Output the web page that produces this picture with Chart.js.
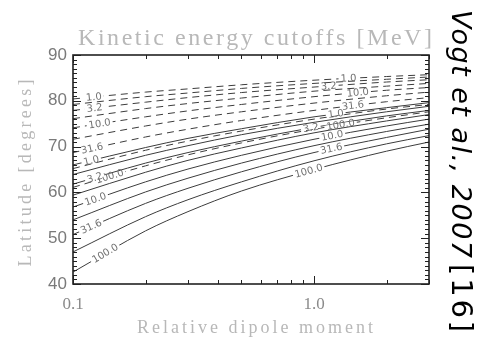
<!DOCTYPE html>
<html>
<head>
<meta charset="utf-8">
<script src="https://cdn.jsdelivr.net/npm/chart.js@4.4.1/dist/chart.umd.min.js"></script>
<style>
  html, body { margin: 0; padding: 0; background: #fff; }
</style>
</head>
<body>
<canvas id="cutoffChart" width="480" height="339"></canvas>
<script>
// relative dipole moment (log axis)
const dipoleMoment = [0.1, 0.2, 0.3, 0.5, 1.0, 2.0, 3.0];
// contour levels, MeV
const cutoffLevels = ['1.0', '1.8', '3.2', '5.6', '10.0', '17.8', '31.6', '56.2', '100.0'];

// latitude (deg) of each dashed contour at the dipoleMoment points
const dashedLatitude = [
  [80.4, 81.9, 82.6, 83.5, 84.5, 85.3, 85.7],
  [79.2, 80.9, 81.7, 82.7, 83.8, 84.7, 85.2],
  [77.9, 79.7, 80.7, 81.8, 83.0, 84.1, 84.6],
  [76.1, 78.3, 79.4, 80.6, 82.1, 83.2, 83.8],
  [74.1, 76.5, 77.8, 79.2, 80.9, 82.3, 82.9],
  [71.6, 74.5, 76.0, 77.6, 79.5, 81.1, 81.9],
  [68.7, 72.1, 73.8, 75.7, 77.9, 79.8, 80.7],
  [65.2, 69.2, 71.2, 73.4, 76.0, 78.2, 79.2],
  [61.1, 65.8, 68.2, 70.8, 73.8, 76.3, 77.6]
];

// latitude (deg) of each solid contour
const solidLatitude = [
  [66.0, 69.8, 71.8, 73.9, 76.5, 78.5, 79.6],
  [63.9, 68.1, 70.2, 72.6, 75.3, 77.6, 78.8],
  [61.8, 66.4, 68.7, 71.2, 74.2, 76.7, 77.9],
  [59.4, 64.4, 67.0, 69.7, 73.0, 75.6, 77.0],
  [56.8, 62.3, 65.1, 68.1, 71.6, 74.5, 76.0],
  [54.0, 60.1, 63.1, 66.4, 70.2, 73.3, 74.9],
  [50.8, 57.6, 60.9, 64.5, 68.7, 72.0, 73.8],
  [47.0, 54.7, 58.4, 62.3, 66.9, 70.6, 72.4],
  [42.6, 51.6, 55.8, 60.3, 65.0, 69.0, 71.0]
];

const xTicks = [0.1, 1.0];
const xTickLabels = ['0.1', '1.0'];
const xMinorTicks = [0.2, 0.3, 0.4, 0.5, 0.6, 0.7, 0.8, 0.9, 2, 3];
const yTicks = [40, 50, 60, 70, 80, 90];
const yMinorTicks = [];
for (let v = 41; v < 90; v++) if (v % 10) yMinorTicks.push(v);

// where along x the level numbers sit (every other contour is labelled)
const dashedLabelAt = [[0.122, 1.39], null, [0.123, 1.15], null, [0.129, 1.52], null, [0.12, 1.45], null, [0.142, 1.29]];
const solidLabelAt = [[0.119, 1.23], null, [0.123, 0.97], null, [0.124, 1.19], null, [0.119, 1.18], null, [0.136, 0.95]];

const lineColor = '#3c3c3c';
const datasets = [];
dashedLatitude.forEach((lat, i) => {
  datasets.push({
    label: cutoffLevels[i],
    data: dipoleMoment.map((x, j) => ({ x: x, y: lat[j] })),
    borderColor: lineColor,
    borderWidth: 1,
    borderDash: [7, 5],
    pointRadius: 0,
    cubicInterpolationMode: 'monotone',
    labelAt: dashedLabelAt[i]
  });
});
solidLatitude.forEach((lat, i) => {
  datasets.push({
    label: cutoffLevels[i],
    data: dipoleMoment.map((x, j) => ({ x: x, y: lat[j] })),
    borderColor: lineColor,
    borderWidth: 1,
    pointRadius: 0,
    cubicInterpolationMode: 'monotone',
    labelAt: solidLabelAt[i]
  });
});

// level numbers written on the contours, line broken under the text
const contourLabels = {
  id: 'contourLabels',
  afterDatasetsDraw(chart) {
    const ctx = chart.ctx;
    const xs = chart.scales.x;
    ctx.save();
    ctx.font = '10px "DejaVu Sans"';
    ctx.textAlign = 'center';
    ctx.textBaseline = 'middle';
    chart.data.datasets.forEach((ds, i) => {
      if (!ds.labelAt) return;
      const line = chart.getDatasetMeta(i).dataset;
      ds.labelAt.forEach(xv => {
        const px = xs.getPixelForValue(xv);
        const p = line.interpolate({ x: px }, 'x');
        const a = line.interpolate({ x: px - 4 }, 'x');
        const b = line.interpolate({ x: px + 4 }, 'x');
        if (!p || !a || !b) return;
        const ang = Math.atan2(b.y - a.y, b.x - a.x);
        const w = ctx.measureText(ds.label).width;
        ctx.save();
        ctx.translate(p.x, p.y);
        ctx.rotate(ang);
        ctx.fillStyle = '#fff';
        ctx.fillRect(-w / 2 - 2, -1.5, w + 4, 3);
        ctx.fillStyle = '#707070';
        ctx.fillText(ds.label, 0, 0.5);
        ctx.restore();
      });
    });
    ctx.restore();
  }
};

// closed frame with inward ticks on all four sides
const frameTicks = {
  id: 'frameTicks',
  afterDraw(chart) {
    const { ctx, chartArea: a, scales: { x, y } } = chart;
    ctx.save();
    ctx.strokeStyle = '#222';
    ctx.lineWidth = 1;
    const seg = (x1, y1, x2, y2) => {
      ctx.beginPath(); ctx.moveTo(x1, y1); ctx.lineTo(x2, y2); ctx.stroke();
    };
    xTicks.concat(xMinorTicks).forEach(v => {
      const len = xTicks.includes(v) ? 8 : 4;
      const px = Math.round(x.getPixelForValue(v)) + 0.5;
      seg(px, a.bottom, px, a.bottom - len);
      seg(px, a.top, px, a.top + len);
    });
    yTicks.concat(yMinorTicks).forEach(v => {
      const len = yTicks.includes(v) ? 8 : 4;
      const py = Math.round(y.getPixelForValue(v)) + 0.5;
      seg(a.left, py, a.left + len, py);
      seg(a.right, py, a.right - len, py);
    });
    ctx.lineWidth = 1.6;
    ctx.strokeRect(a.left, a.top, a.right - a.left, a.bottom - a.top);
    ctx.restore();
  }
};

// text stretched to a given width by letter spacing
function spacedText(ctx, text, cx, cy, width) {
  ctx.letterSpacing = '0px';
  const w0 = ctx.measureText(text).width;
  const sp = (width - w0) / (text.length - 1);
  ctx.letterSpacing = sp + 'px';
  ctx.textAlign = 'left';
  ctx.fillText(text, cx - width / 2, cy);
  ctx.letterSpacing = '0px';
}

const headings = {
  id: 'headings',
  afterDraw(chart) {
    const ctx = chart.ctx;
    ctx.save();
    ctx.textBaseline = 'alphabetic';
    ctx.fillStyle = '#b8b8b8';
    ctx.font = '24px "Liberation Serif"';
    spacedText(ctx, 'Kinetic energy cutoffs [MeV]', 255, 45, 354);
    ctx.font = '18px "Liberation Serif"';
    spacedText(ctx, 'Relative dipole moment', 255, 333, 236);
    ctx.save();
    ctx.translate(31, 173);
    ctx.rotate(-Math.PI / 2);
    spacedText(ctx, 'Latitude [degrees]', 0, 0, 187);
    ctx.restore();

    ctx.fillStyle = '#000';
    ctx.translate(452, 0);
    ctx.rotate(Math.PI / 2);
    ctx.font = 'italic 27px "DejaVu Sans"';
    spacedText(ctx, 'Vogt et al., 2007', 134, 0, 248);
    ctx.font = '29px "DejaVu Sans"';
    spacedText(ctx, '[16]', 298, 0, 68);
    ctx.restore();
  }
};

new Chart(document.getElementById('cutoffChart'), {
  type: 'line',
  data: { datasets: datasets },
  options: {
    responsive: false,
    animation: false,
    layout: { padding: { top: 55, right: 51, left: 0, bottom: 0 } },
    plugins: {
      legend: { display: false },
      tooltip: { enabled: false },
      title: { display: false }
    },
    scales: {
      x: {
        type: 'logarithmic',
        min: 0.1,
        max: 3,
        grid: { display: false, drawTicks: false },
        border: { display: false },
        afterBuildTicks: s => { s.ticks = xTicks.map(v => ({ value: v })); },
        afterFit: s => { s.height = 55; },
        ticks: {
          autoSkip: false,
          maxRotation: 0,
          padding: 10,
          color: '#8a8a8a',
          font: { family: 'Liberation Serif', size: 17 },
          callback: (v, i) => xTickLabels[i]
        }
      },
      y: {
        min: 40,
        max: 90,
        grid: { display: false, drawTicks: false },
        border: { display: false },
        afterBuildTicks: s => { s.ticks = yTicks.map(v => ({ value: v })); },
        afterFit: s => { s.width = 73; },
        ticks: {
          padding: 6,
          color: '#7a7a7a',
          font: { family: 'Liberation Sans', size: 17 }
        }
      }
    }
  },
  plugins: [contourLabels, frameTicks, headings]
});
</script>
</body>
</html>
